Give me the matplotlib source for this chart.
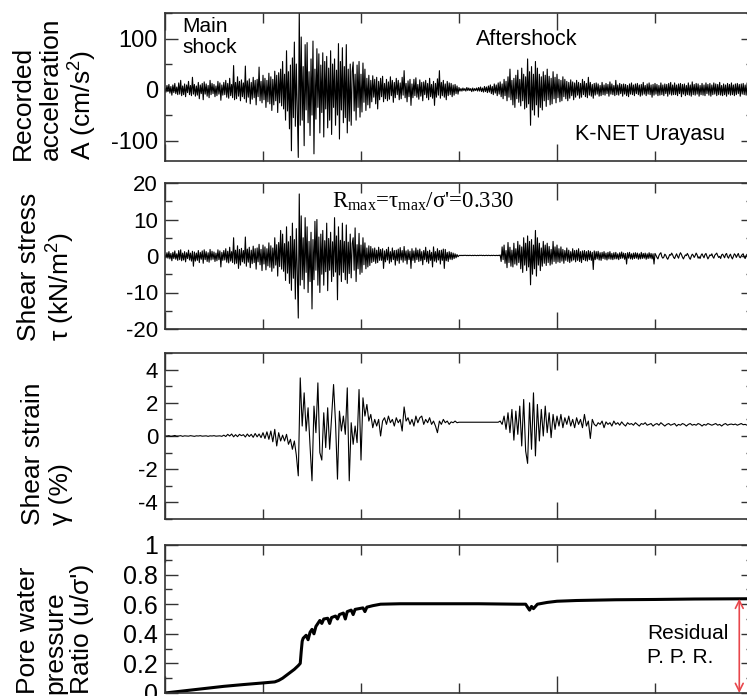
import numpy as np
import matplotlib
matplotlib.use("Agg")
import matplotlib.pyplot as plt
from matplotlib.ticker import MultipleLocator

plt.rcParams['font.family'] = ['Liberation Sans', 'DejaVu Sans']
plt.rcParams['mathtext.fontset'] = 'stix'
plt.rcParams['mathtext.default'] = 'regular'
plt.rcParams['axes.unicode_minus'] = False

dt_fast = 0.5   # acceleration, stress
dt_slow = 1.0   # strain

# recorded acceleration A (cm/s2), two values per second (10 per line = 5 s)
acc = [
    2, -5, 8, -4, 10, -7, 6, -11, 9, -6,
    12, -8, 5, -10, 13, -9, 18, -12, 7, -10,
    11, -14, 9, -6, 16, -10, 8, -12, 24, -9,
    10, -13, 7, -11, 14, -18, 9, -8, 12, -20,
    15, -9, 11, -13, 8, -16, 18, -10, 12, -8,
    10, -14, 7, -12, 16, -9, 13, -21, 9, -11,
    14, -10, 18, -15, 12, -17, 22, -12, 10, -16,
    47, -20, 14, -18, 25, -13, 16, -22, 19, -14,
    13, -18, 46, -25, 17, -15, 21, -28, 14, -19,
    24, -16, 18, -30, 20, -14, 44, -22, 16, -26,
    28, -20, 22, -35, 18, -24, 32, -28, 25, -41,
    20, -30, 36, -22, 28, -45, 33, -26, 40, -32,
    55, -38, 30, -60, 76, -42, 35, -77, 48, -120,
    62, -55, 93, -72, 50, -45, -133, 155, -70, 103,
    -60, 45, -110, 88, -40, 92, -65, 35, -90, 60,
    -50, 95, -126, 40, -58, 80, -35, 70, -85, 48,
    -45, 72, -93, 55, -38, 65, -75, 42, -60, 76,
    -88, 50, -35, 60, -70, 38, -50, 90, -97, 55,
    -40, 82, -65, 45, -55, 88, -85, 40, -62, 50,
    -70, 35, 54, -42, 30, -60, 48, -35, 55, -54,
    30, -44, 52, -25, 40, -41, 22, -30, 28, -36,
    18, -24, 27, -15, 20, -28, 24, -38, 16, -20,
    22, -14, 26, -24, 12, -18, 20, -22, 15, -19,
    25, -12, 18, -25, 14, -16, 22, -10, 18, -20,
    13, -18, 24, -11, 37, -16, 12, -24, 17, -14,
    20, -31, 11, -16, 20, -12, 23, -15, 10, -19,
    19, -13, 14, -22, 15, -10, 18, -16, 12, -20,
    22, -14, 10, -17, 16, -31, 12, -15, 21, -11,
    37, -17, 14, -12, 18, -15, 11, -20, 16, -12,
    13, -10, 12, -14, 9, -11, 10, -8, 7, -9,
    4, -3, 2, -3, 3, -2, 2, -3, 4, -2,
    3, -2, 2, -4, 3, -3, 2, -2, 3, -3,
    4, -3, 5, -4, 3, -5, 6, -4, 5, -6,
    7, -5, 9, -8, 6, -10, 11, -7, 9, -12,
    13, -9, 15, -14, 11, -18, 20, -12, 16, -22,
    25, -15, 40, -20, 18, -30, 22, -35, 28, -18,
    38, -25, 20, -32, 42, -22, 30, -38, 25, -35,
    60, -28, 35, -70, 45, -40, 30, -50, 55, -30,
    42, -54, 30, -35, 25, -40, 35, -22, 28, -33,
    40, -20, 26, -30, 22, -28, 35, -18, 24, -26,
    30, -16, 20, -24, 18, -22, 25, -14, 20, -18,
    16, -22, 14, -17, 19, -12, 15, -20, 13, -15,
    18, -11, 14, -17, 12, -15, 20, -10, 16, -14,
    12, -16, 24, -11, 14, -13, 10, -17, 12, -11,
    13, -9, 11, -13, 8, -12, 14, -10, 9, -11,
    12, -8, 10, -13, 15, -9, 11, -10, 8, -12,
    18, -10, 9, -11, 12, -8, 10, -13, 11, -9,
    10, -12, 8, -14, 11, -9, 13, -10, 9, -12,
    11, -8, 12, -10, 9, -13, 10, -11, 14, -9,
    8, -12, 11, -9, 13, -10, 9, -15, 10, -11,
    12, -9, 10, -12, 8, -11, 13, -10, 9, -12,
    11, -8, 10, -13, 12, -9, 14, -11, 9, -10,
    13, -10, 9, -12, 11, -8, 12, -14, 10, -9,
    11, -12, 8, -10, 13, -11, 9, -13, 15, -10,
    10, -11, 12, -9, 11, -13, 8, -10, 12, -11,
    9, -12, 13, -8, 10, -11, 12, -13, 9, -10,
    13, -9, 11, -12, 10, -10, 14, -11, 8, -12,
    11, -10, 9, -13, 12, -9, 10, -11, 13, -10,
    9, -12, 11, -10, 12, -8, 10, -13, 11, -9,
    12, -10, 9, -11, 13, -9, 10, -12, 11, -10,
]

# shear stress tau (kN/m2), two values per second
stress = [
    0.3, -0.5, 0.9, -0.6, 1.2, -0.8, 0.7, -1.3, 1.0, -0.7,
    1.4, -0.9, 0.6, -1.2, 1.5, -1.0, 1.7, -1.3, 0.8, -1.1,
    1.2, -1.6, 0.9, -0.7, 1.6, -1.1, 0.8, -1.4, 1.3, -2.8,
    1.1, -1.4, 0.8, -1.2, 1.5, -1.8, 1.0, -0.9, 1.4, -2.0,
    1.7, -1.0, 1.2, -1.5, 0.9, -1.7, 1.8, -1.1, 1.3, -0.9,
    1.1, -1.5, 0.8, -1.3, 1.7, -1.0, 1.4, -3.0, 1.0, -1.2,
    1.5, -1.1, 2.0, -1.7, 1.3, -1.9, 2.4, -1.4, 1.2, -1.8,
    5.0, -2.2, 1.6, -2.0, 2.8, -3.4, 1.8, -2.5, 2.1, -1.6,
    1.5, -2.0, 5.2, -2.8, 1.9, -1.7, 2.4, -3.2, 1.6, -2.1,
    2.7, -1.8, 2.0, -3.6, 2.2, -1.6, 3.2, -2.4, 1.8, -4.0,
    3.0, -2.2, 2.5, -3.8, 2.0, -2.7, 3.6, -3.1, 2.8, -4.2,
    2.2, -3.3, 5.0, -2.5, 3.1, -5.5, 3.7, -2.9, 7.0, -3.6,
    6.0, -4.2, 3.4, -6.7, 8.0, -4.7, 3.9, -7.5, 5.4, -9.4,
    9.0, -6.1, 4.5, -11.8, 7.5, -5.0, -17.0, 17.0, -8.0, 11.0,
    -6.5, 5.0, -9.0, 10.5, -4.5, 8.0, -10.0, 4.0, -7.0, 6.5,
    -14.5, 4.5, -6.5, 9.5, -3.9, 10.0, -8.0, 5.2, -10.0, 6.0,
    -5.0, 7.0, -8.0, 4.2, -4.3, 9.0, -9.5, 4.8, -3.9, 6.5,
    -7.0, 3.9, -5.6, 10.5, -4.4, 5.5, -12.0, 8.0, -5.2, 4.3,
    -7.0, 9.0, -4.5, 4.0, -6.5, 8.5, -7.5, 3.8, -4.8, 6.0,
    -6.0, 3.4, 5.0, -3.9, 7.7, -7.0, 3.1, -3.5, 6.2, -5.0,
    3.0, -4.5, 5.0, -2.4, 3.6, -3.5, 2.2, -3.0, 2.8, -2.6,
    2.6, -1.8, 2.0, -1.5, 2.2, -2.0, 1.6, -1.8, 2.4, -1.2,
    1.8, -1.2, 2.0, -3.4, 1.4, -1.6, 1.8, -1.1, 2.4, -2.0,
    1.2, -1.6, 2.2, -1.0, 1.5, -2.5, 1.6, -1.3, 1.9, -2.0,
    2.3, -1.1, 1.5, -1.7, 2.6, -1.2, 1.4, -2.2, 1.7, -1.0,
    1.3, -3.4, 2.0, -1.2, 1.4, -1.8, 2.2, -1.0, 1.6, -1.5,
    1.9, -1.3, 1.2, -2.4, 1.5, -1.0, 2.4, -1.6, 1.3, -2.0,
    1.6, -1.2, 1.0, -3.0, 2.5, -1.4, 1.2, -1.7, 2.0, -1.1,
    1.5, -2.2, 1.6, -1.2, 1.9, -3.4, 1.8, -1.3, 1.0, -1.5,
    1.2, -0.9, 1.0, -1.0, 0.8, -0.7, 0.6, -0.5, 0.4, -0.2,
    0.1, 0.2, 0.1, 0.2, 0.1, 0.2, 0.15, 0.2, 0.1, 0.2,
    0.1, 0.2, 0.15, 0.1, 0.2, 0.1, 0.2, 0.15, 0.1, 0.2,
    0.1, 0.2, 0.15, 0.2, 0.1, 0.2, 0.1, 0.15, 0.2, 0.1,
    0.2, 0.15, 0.1, 0.2, 0.1, 0.2, 0.15, 0.1, 0.2, 0.1,
    0.2, 0.1, 0.3, -1.5, 2.5, -1.0, 3.0, -2.0, 1.5, -3.2,
    3.7, -1.8, 2.4, -2.8, 1.6, -3.0, 3.5, -2.2, 2.0, -2.5,
    4.0, -1.8, 3.0, -3.5, 2.5, -4.5, 5.0, -2.5, 3.5, -4.0,
    5.5, -3.0, 4.0, -7.9, 4.5, -5.0, 3.0, -3.5, 7.0, -5.5,
    5.0, -2.5, 3.5, -4.0, 2.2, -2.8, 4.0, -2.0, 3.0, -2.6,
    3.5, -1.8, 2.6, -2.5, 1.8, -2.2, 4.0, -1.5, 2.5, -2.0,
    3.0, -1.6, 2.0, -1.8, 2.5, -1.4, 1.8, -2.0, 1.5, -1.2,
    2.2, -1.5, 1.6, -1.8, 1.2, -1.4, 2.0, -1.1, 1.5, -1.6,
    1.6, -1.2, 2.0, -1.5, 1.2, -1.8, 1.4, -1.0, 1.5, -1.3,
    1.2, -1.4, 1.5, -1.0, 1.3, -1.2, 1.0, -3.7, 1.4, -1.0,
    1.2, -0.8, 1.3, -1.1, 0.9, -1.2, 1.0, -0.7, 1.2, -0.9,
    0.8, -1.1, 1.0, -0.8, 1.2, -0.9, 0.7, -1.0, 0.9, -0.8,
    1.0, -0.8, 0.6, -1.0, 0.9, -0.7, 1.1, -0.6, 0.8, -0.9,
    0.7, -2.2, 0.9, -0.6, 1.0, -0.8, 0.6, -0.9, 0.8, -0.7,
    0.9, -0.6, 0.8, -0.9, 0.6, -0.8, 1.0, -0.7, 0.7, -0.6,
    0.8, -0.9, 0.6, -0.7, 0.9, -0.6, 0.7, -0.8, 0.6, -2.2,
    0.7, 0.2, -0.4, -0.8, 0.1, 0.6, 0.9, -0.2, -0.6, -0.3,
    0.5, 0.2, -0.5, -0.9, -0.3, 0.4, 0.2, 0.8, 0.3, -0.4,
    -0.7, 0.0, 0.6, -0.1, -0.6, 0.3, 0.9, 0.4, -0.3, -0.8,
    -0.2, 0.3, 0.1, 0.7, 0.2, -0.5, -0.9, -0.1, 0.5, 0.2,
    -0.4, 0.1, 0.8, 0.3, -0.6, -0.2, -0.7, 0.2, 0.6, 0.0,
    -0.5, 0.4, 0.7, -0.1, -0.8, -0.3, 0.3, 0.1, 0.6, -0.2,
    -0.6, 0.2, 0.5, 0.8, 0.1, -0.4, -0.1, -0.7, 0.3, 0.5,
    0.0, -0.5, 0.4, 0.7, -0.2, -0.6, 0.1, 0.5, -0.3, -0.8,
    -0.1, 0.6, 0.3, -0.4, 0.2, 0.7, -0.2, -0.5, 0.0, 0.4,
    0.6, -0.3, -0.7, 0.1, 0.5, -0.1, -0.4, 0.3, 0.6, -0.2,
]

# shear strain gamma (%), one value per second
strain = [
    0.0, 0.0, 0.02, -0.02, 0.0, 0.03, -0.01, 0.0, 0.02, -0.02,
    0.01, 0.0, -0.01, 0.02, 0.0, -0.02, 0.01, 0.0, 0.02, -0.01,
    0.0, 0.01, -0.02, 0.01, 0.0, 0.02, -0.01, 0.0, 0.01, -0.02,
    0.05, -0.03, 0.1, 0.0, 0.12, -0.05, 0.08, -0.04, 0.1, 0.02,
    0.08, -0.06, 0.12, -0.03, 0.1, -0.08, 0.15, -0.05, 0.12, -0.1,
    0.2, -0.15, 0.25, -0.2, 0.3, -0.35, 0.4, -0.6, 0.2, -0.3,
    0.05, -0.3, 0.1, -0.5, -0.2, -0.8, -0.3, -1.15, -2.4, 3.5,
    0.6, 2.6, 0.3, 1.7, -0.6, -2.7, 1.8, 0.2, 3.2, -1.0,
    -1.45, 1.4, -0.7, 1.7, -0.8, 1.2, 3.1, 0.8, -2.6, 1.5,
    0.3, 1.2, 0.1, 2.9, -2.7, 0.8, -0.5, 0.6, -0.4, 2.8,
    -1.45, 2.3, 1.2, 1.9, 0.9, 1.3, 0.5, 1.0, 0.6, 1.0,
    0.0, 0.9, 1.1, 0.7, 1.2, 0.8, 1.0, 0.6, 1.1, 0.8,
    1.0, 0.3, 1.75, 0.9, 1.1, 0.7, 1.0, 0.6, 1.2, 0.8,
    1.1, 1.2, 0.7, 1.0, 0.8, 1.1, 0.7, 0.9, 0.6, 0.2,
    0.9, 0.7, 1.0, 0.8, 0.9, 0.7, 0.85, 0.8, 0.9, 0.8,
    0.83, 0.83, 0.83, 0.83, 0.83, 0.83, 0.83, 0.83, 0.83, 0.83,
    0.83, 0.83, 0.83, 0.83, 0.83, 0.83, 0.83, 0.83, 0.83, 0.83,
    0.83, 0.9, 0.7, 1.2, 0.4, 1.4, 0.2, 1.6, -0.25, 1.5,
    0.1, 1.8, -0.6, 2.2, -0.9, -1.65, 2.0, -0.8, 2.6, -1.2,
    1.9, -0.3, 1.6, 0.0, 1.8, 0.2, 1.4, -0.1, 1.3, 0.4,
    1.2, 0.6, 1.3, 0.5, 1.1, 0.7, 1.2, 0.6, 1.0, 0.5,
    1.1, 0.7, 1.0, 0.5, 1.3, 0.6, 0.9, -0.15, 1.0, 0.7,
    0.6, 0.8, 0.7, 0.9, 0.5, 0.85, 0.7, 0.8, 0.6, 0.9,
    0.7, 0.8, 0.65, 0.85, 0.7, 0.6, 0.8, 0.7, 0.75, 0.65,
    0.8, 0.7, 0.6, 0.75, 0.7, 0.8, 0.65, 0.7, 0.75, 0.6,
    0.7, 0.75, 0.65, 0.8, 0.7, 0.6, 0.7, 0.75, 0.65, 0.7,
    0.75, 0.6, 0.7, 0.65, 0.75, 0.7, 0.6, 0.7, 0.75, 0.65,
    0.7, 0.65, 0.75, 0.7, 0.6, 0.7, 0.65, 0.75, 0.7, 0.65,
    0.7, 0.75, 0.65, 0.7, 0.6, 0.7, 0.75, 0.65, 0.7, 0.72,
    0.68, 0.72, 0.65, 0.7, 0.75, 0.68, 0.7, 0.65, 0.72, 0.7,
]

# pore water pressure ratio u/sigma' (time s, value)
ppr_t = [0, 10, 20, 30, 40, 50, 56, 58, 60, 62, 64, 66, 68, 69, 69.5, 70,
         70.5, 72, 73, 74, 75, 76, 77, 78, 79, 80, 81, 83, 84, 85, 87, 88,
         89, 91, 92, 93, 95, 96, 97, 99, 101, 102, 103, 106, 110, 120, 140,
         160, 180, 184, 185, 186, 187, 188, 190, 195, 200, 210, 230, 250,
         270, 300]
ppr = [0.0, 0.015, 0.03, 0.045, 0.057, 0.068, 0.075, 0.085, 0.10, 0.12,
       0.14, 0.16, 0.185, 0.20, 0.28, 0.35, 0.37, 0.39, 0.36, 0.41, 0.43,
       0.40, 0.45, 0.47, 0.49, 0.47, 0.50, 0.505, 0.47, 0.51, 0.52, 0.50,
       0.53, 0.54, 0.50, 0.55, 0.56, 0.53, 0.565, 0.57, 0.575, 0.55, 0.58,
       0.59, 0.60, 0.603, 0.603, 0.603, 0.6, 0.6, 0.58, 0.56, 0.585, 0.57,
       0.6, 0.612, 0.62, 0.625, 0.63, 0.632, 0.635, 0.637]

t_fast = np.arange(len(acc)) * dt_fast
t_slow = np.arange(len(strain)) * dt_slow

fig = plt.figure(figsize=(7.47, 6.96), dpi=100)
left, width = 165 / 747, 588 / 747
boxes = [(13, 161), (183, 329), (353, 519), (545, 693)]
axes = [fig.add_axes([left, 1 - b / 696, width, (b - tp) / 696]) for tp, b in boxes]

ax1, ax2, ax3, ax4 = axes
ax1.plot(t_fast, acc, color='black', lw=0.8)
ax2.plot(t_fast, stress, color='black', lw=0.8)
ax3.plot(t_slow, strain, color='black', lw=0.8)
ax4.plot(ppr_t, ppr, color='black', lw=2.2)

ax1.set_ylim(-140, 150)
ax2.set_ylim(-20, 20)
ax3.set_ylim(-5, 5)
ax4.set_ylim(0, 1)

ylocs = [(100, 50), (10, 5), (2, 1), (0.2, 0.1)]
fsizes = [17, 16, 16, 18]
for ax, (maj, mnr), fs in zip(axes, ylocs, fsizes):
    ax.set_xlim(0, 300)
    ax.xaxis.set_major_locator(MultipleLocator(200))
    ax.xaxis.set_minor_locator(MultipleLocator(50))
    ax.yaxis.set_major_locator(MultipleLocator(maj))
    ax.yaxis.set_minor_locator(MultipleLocator(mnr))
    ax.tick_params(which='both', direction='in', top=True, right=True,
                   labelbottom=False, width=1, color='#333333')
    ax.tick_params(axis='x', which='major', length=12)
    ax.tick_params(axis='x', which='minor', length=7)
    ax.tick_params(axis='y', which='major', length=9, labelsize=fs, pad=5)
    ax.tick_params(axis='y', which='minor', length=5)
    for sp in ax.spines.values():
        sp.set_linewidth(1.2)
        sp.set_color('#333333')


def ppr_fmt(v, pos):
    v = round(v, 2)
    if v == 0:
        return '0'
    if v == 1:
        return '1'
    return f'{v:.1f}'


ax4.yaxis.set_major_formatter(ppr_fmt)

# y labels, bottom aligned like the original
lab_kw = dict(rotation=90, ha='center', va='bottom', multialignment='left', fontsize=19,
              linespacing=1.18)
fig.text(55 / 747, 1 - 160 / 696, 'Recorded\nacceleration\nA (cm/s$^2$)', **lab_kw)
fig.text(47 / 747, 1 - 341 / 696, 'Shear stress\nτ (kN/m$^2$)', **lab_kw)
fig.text(47 / 747, 1 - 525 / 696, 'Shear strain\nγ (%)', **lab_kw)
fig.text(55 / 747, 1 - 694 / 696, "Pore water\npressure\nRatio (u/σ')", **lab_kw)

ax1.text(9, 143, 'Main\nshock', fontsize=15, va='top', ha='left', linespacing=1.15)
ax1.text(158.5, 98, 'Aftershock', fontsize=15.5, va='center', ha='left')
ax1.text(209, -88, 'K-NET Urayasu', fontsize=15.5, va='center', ha='left')
ax2.text(85, 14.7, "R$_{max}$=τ$_{max}$/σ'=0.330", fontsize=16.5, va='center', ha='left',
         family='Liberation Serif')

ax4.annotate('', xy=(293, 0.0), xytext=(293, 0.637),
             arrowprops=dict(arrowstyle='<->', color='#e8474c', lw=1.2,
                             shrinkA=0, shrinkB=0, mutation_scale=14))
ax4.text(246, 0.32, 'Residual\nP. P. R.', fontsize=15, va='center', ha='left',
         linespacing=1.3)

fig.savefig('out.png', dpi=100)
